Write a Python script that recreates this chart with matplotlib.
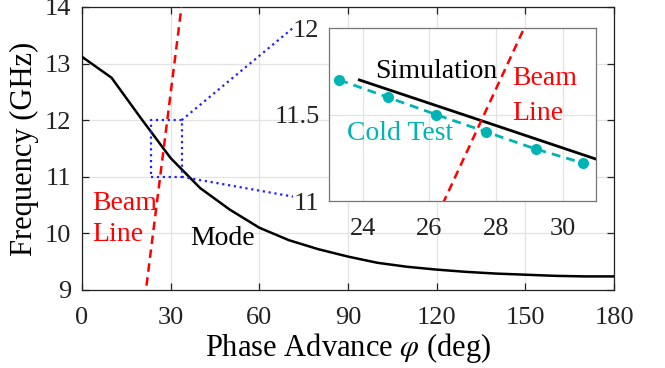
import numpy as np
import matplotlib
matplotlib.use("Agg")
import matplotlib.pyplot as plt

plt.rcParams['font.family'] = ['Liberation Serif', 'DejaVu Serif']
plt.rcParams['mathtext.fontset'] = 'stix'

# ---- data ----
# dispersion curve of the mode (main plot)
mode_phi = [0, 10, 20, 30, 40, 50, 60, 70, 80, 90, 100, 110, 120, 130, 140, 150, 160, 170, 180]
mode_f = [13.12, 12.75, 12.03, 11.33, 10.80, 10.42, 10.10, 9.88, 9.72, 9.59,
          9.48, 9.41, 9.36, 9.32, 9.29, 9.27, 9.25, 9.24, 9.24]

# beam line (straight line through the origin)
beam_phi = [0, 40]
beam_f = [0, 16.64]

# zoomed inset: simulation and cold test
sim_phi = [23.9, 27.4, 31.5]
sim_f = [11.70, 11.475, 11.21]
cold_phi = [23.3, 24.75, 26.2, 27.7, 29.2, 30.6]
cold_f = [11.70, 11.60, 11.50, 11.40, 11.30, 11.22]

# zoom box drawn on the main plot and its connectors
box_phi = [23.2, 33.7]
box_f = [11.0, 12.0]
conn_end_phi = 71.4
conn_end_f = [13.63, 10.65]

main_xticks = [0, 30, 60, 90, 120, 150, 180]
main_yticks = [9, 10, 11, 12, 13, 14]
inset_xticks = [24, 26, 28, 30]
inset_yticks = [11, 11.5, 12]

CYAN = '#00b4b4'
BLUE = '#2020ff'
GRID = '#e3e3e3'
TICK_FS = 19
TEXT_FS = 20
LABEL_FS = 22
DASH = (0, (3.4, 2.2))

fig = plt.figure(figsize=(6.65, 3.68), dpi=100)

# ============================================
# main axes
# ============================================
ax = fig.add_axes([0.1233, 0.212, 0.8, 0.769])
ax.plot(mode_phi, mode_f, color='black', lw=1.8, zorder=3)
ax.plot(beam_phi, beam_f, color='red', lw=1.8, linestyle=DASH, zorder=3)

# dotted zoom box + connectors
bx = [box_phi[0], box_phi[1], box_phi[1], box_phi[0], box_phi[0]]
by = [box_f[0], box_f[0], box_f[1], box_f[1], box_f[0]]
ax.plot(bx, by, color=BLUE, lw=1.6, linestyle=':', zorder=4)
ax.plot([box_phi[1], conn_end_phi], [box_f[1], conn_end_f[0]],
        color=BLUE, lw=1.6, linestyle=':', zorder=4, clip_on=False)
ax.plot([box_phi[1], conn_end_phi], [box_f[0], conn_end_f[1]],
        color=BLUE, lw=1.6, linestyle=':', zorder=4, clip_on=False)

ax.text(3.3, 10.42, 'Beam', color='red', fontsize=TEXT_FS)
ax.text(3.3, 9.86, 'Line', color='red', fontsize=TEXT_FS)
ax.text(36.5, 9.80, 'Mode', color='black', fontsize=TEXT_FS)

ax.set_xlim(0, 180)
ax.set_ylim(9, 14)
ax.set_xticks(main_xticks)
ax.set_yticks(main_yticks)
ax.grid(True, color=GRID, lw=0.9)
ax.set_axisbelow(True)
ax.tick_params(direction='in', top=True, right=True, length=5, width=0.9,
               labelsize=TICK_FS, colors='#222222')
ax.tick_params(axis='x', pad=12)
ax.tick_params(axis='y', pad=8)
for s in ax.spines.values():
    s.set_color('#222222')
    s.set_linewidth(0.9)
ax.set_xlabel(r'Phase Advance $\varphi$ (deg)', fontsize=LABEL_FS, labelpad=2)
ax.set_ylabel('Frequency (GHz)', fontsize=LABEL_FS, labelpad=4)

# ============================================
# inset
# ============================================
ins = fig.add_axes([0.4952, 0.4538, 0.401, 0.470])
ins.set_facecolor('white')
ins.plot(sim_phi, sim_f, color='black', lw=2.0, zorder=3)
ins.plot(cold_phi, cold_f, color=CYAN, lw=2.0, linestyle=(0, (3.2, 2.2)),
         marker='o', markersize=7, zorder=3)
ins.plot(beam_phi, beam_f, color='red', lw=1.8, linestyle=DASH, zorder=3)

ins.text(24.37, 11.71, 'Simulation', color='black', fontsize=TEXT_FS)
ins.text(23.52, 11.35, 'Cold Test', color=CYAN, fontsize=TEXT_FS)
ins.text(28.5, 11.67, 'Beam', color='red', fontsize=TEXT_FS)
ins.text(28.5, 11.47, 'Line', color='red', fontsize=TEXT_FS)

ins.set_xlim(23, 31)
ins.set_ylim(11, 12)
ins.set_xticks(inset_xticks)
ins.set_yticks(inset_yticks)
ins.set_yticklabels(['11', '11.5', '12'])
ins.grid(True, color=GRID, lw=0.9)
ins.set_axisbelow(True)
ins.tick_params(direction='in', length=0, labelsize=TICK_FS, colors='#222222')
ins.tick_params(axis='x', pad=12)
ins.tick_params(axis='y', pad=7)
for s in ins.spines.values():
    s.set_color('#777777')
    s.set_linewidth(0.9)

fig.savefig('out.png', dpi=100)
